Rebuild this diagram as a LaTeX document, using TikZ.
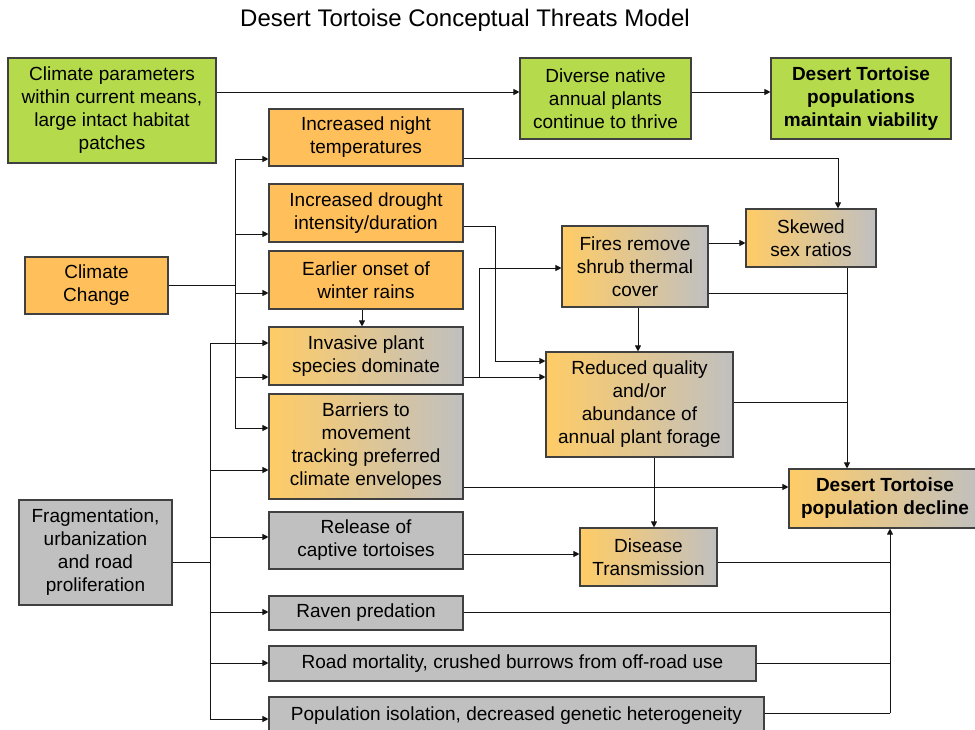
\documentclass[tikz,border=0pt]{standalone}
\usepackage{fontspec}
\setmainfont{Liberation Sans}
\usetikzlibrary{arrows.meta,calc}
\definecolor{gfill}{RGB}{181,218,76}
\definecolor{ofill}{RGB}{255,192,92}
\definecolor{gleft}{RGB}{255,204,102}
\definecolor{gyfill}{RGB}{192,192,192}
\definecolor{bord}{RGB}{64,64,64}
\definecolor{lne}{RGB}{20,20,20}
\begin{document}
\begin{tikzpicture}[x=1pt,y=-1pt,
  box/.style={draw=bord,line width=1.1pt,inner sep=0pt,align=center,font=\fontsize{19}{23}\selectfont},
  gbox/.style={box,fill=gfill},
  obox/.style={box,fill=ofill},
  ybox/.style={box,fill=gyfill},
  sbox/.style={box,left color=gleft,right color=gyfill},
  ln/.style={draw=lne,line width=0.9pt},
  arr/.style={ln,-{Triangle[length=6pt,width=6pt]}}]
\useasboundingbox (0,0) rectangle (975,730);
\node[font=\fontsize{24}{28}\selectfont] (title) at (465,20) {Desert Tortoise Conceptual Threats Model};

\node[gbox,minimum width=208,minimum height=105] (cp) at (112,110.5) {Climate parameters\\within current means,\\large intact habitat\\patches};
\node[gbox,minimum width=171,minimum height=81] (dn) at (605.5,98.5) {Diverse native\\annual plants\\continue to thrive};
\node[gbox,minimum width=180,minimum height=81,font=\fontsize{19}{23}\selectfont\bfseries] (vb) at (861,98.5) {Desert Tortoise\\populations\\maintain viability};

\node[obox,minimum width=194,minimum height=57] (nt) at (366,137.5) {Increased night\\temperatures};
\node[obox,minimum width=194,minimum height=58] (dr) at (366,213) {Increased drought\\intensity/duration};
\node[obox,minimum width=194,minimum height=58] (er) at (366,280) {Earlier onset of\\winter rains};
\node[sbox,minimum width=194,minimum height=58] (ip) at (366,356) {Invasive plant\\species dominate};
\node[sbox,minimum width=194,minimum height=105] (ba) at (366,446.5) {Barriers to\\movement\\tracking preferred\\climate envelopes};
\node[ybox,minimum width=194,minimum height=57] (rc) at (366,540.5) {Release of\\captive tortoises};
\node[ybox,minimum width=194,minimum height=34] (rp) at (366,613) {Raven predation};
\node[ybox,minimum width=487,minimum height=35] (rm) at (512.5,663.5) {Road mortality, crushed burrows from off-road use};
\node[ybox,minimum width=495,minimum height=38] (pi) at (516.5,716) {Population isolation, decreased genetic heterogeneity};

\node[obox,minimum width=143,minimum height=57] (cc) at (96.5,285.5) {Climate\\Change};
\node[ybox,minimum width=153,minimum height=105] (fr) at (95.5,552.5) {Fragmentation,\\urbanization\\and road\\proliferation};

\node[sbox,minimum width=146,minimum height=81] (fi) at (635,266.5) {Fires remove\\shrub thermal\\cover};
\node[sbox,minimum width=130,minimum height=58] (sk) at (811,238) {Skewed\\sex ratios};
\node[sbox,minimum width=187,minimum height=105] (rq) at (639.5,404.5) {Reduced quality\\and/or\\abundance of\\annual plant forage};
\node[sbox,minimum width=192,minimum height=59,font=\fontsize{19}{23}\selectfont\bfseries] (de) at (885,498.5) {Desert Tortoise\\population decline};
\node[sbox,minimum width=137,minimum height=58] (di) at (648.5,557) {Disease\\Transmission};

% top row
\coordinate (r92) at (0,92);
\draw[arr] (cp.east |- r92) -- (dn.west |- r92);
\draw[arr] (dn.east |- r92) -- (vb.west |- r92);

% climate change trunk
\coordinate (ct) at (235,285);
\coordinate (ct1) at (235,159);
\coordinate (ct2) at (235,234);
\coordinate (ct3) at (235,293);
\coordinate (ct4) at (235,377);
\coordinate (ct5) at (235,428);
\draw[ln] (cc.east |- ct) -- (ct);
\draw[ln] (ct1) -- (ct5);
\draw[arr] (ct1) -- (ct1 -| nt.west);
\draw[arr] (ct2) -- (ct2 -| dr.west);
\draw[arr] (ct3) -- (ct3 -| er.west);
\draw[arr] (ct4) -- (ct4 -| ip.west);
\draw[arr] (ct5) -- (ct5 -| ba.west);

% fragmentation trunk
\coordinate (ft) at (210,562);
\coordinate (ft1) at (210,343);
\coordinate (ft2) at (210,470);
\coordinate (ft3) at (210,537);
\coordinate (ft4) at (210,612);
\coordinate (ft5) at (210,663);
\coordinate (ft6) at (210,719);
\draw[ln] (fr.east |- ft) -- (ft);
\draw[ln] (ft1) -- (ft6);
\draw[arr] (ft1) -- (ft1 -| ip.west);
\draw[arr] (ft2) -- (ft2 -| ba.west);
\draw[arr] (ft3) -- (ft3 -| rc.west);
\draw[arr] (ft4) -- (ft4 -| rp.west);
\draw[arr] (ft5) -- (ft5 -| rm.west);
\draw[arr] (ft6) -- (ft6 -| pi.west);

% earlier -> invasive
\coordinate (x362) at (362,0);
\draw[arr] (er.south -| x362) -- (ip.north -| x362);

% drought -> reduced
\coordinate (d1) at (495,226);
\coordinate (d2) at (495,361);
\draw[arr] (dr.east |- d1) -- (d1) -- (d2) -- (d2 -| rq.west);

% invasive -> reduced, fires
\coordinate (i1) at (479,377);
\coordinate (i2) at (479,268);
\draw[arr] (ip.east |- i1) -- (i1 -| rq.west);
\draw[arr] (i1) -- (i2) -- (i2 -| fi.west);

% night -> skewed
\coordinate (n1) at (838,158);
\draw[arr] (nt.east |- n1) -- (n1) -- (n1 |- sk.north);

% fires -> skewed
\coordinate (f1) at (0,243);
\draw[arr] (fi.east |- f1) -- (sk.west |- f1);

% right trunk to decline
\coordinate (s1) at (847,293);
\coordinate (s2) at (847,402);
\draw[arr] (sk.south -| s1) -- (de.north -| s1);
\draw[ln] (fi.east |- s1) -- (s1);
\draw[ln] (rq.east |- s2) -- (s2);

% fires -> reduced ; reduced -> disease
\coordinate (x638) at (638,0);
\coordinate (x654) at (654,0);
\draw[arr] (fi.south -| x638) -- (rq.north -| x638);
\draw[arr] (rq.south -| x654) -- (di.north -| x654);

% barriers -> decline
\coordinate (b1) at (0,487);
\draw[arr] (ba.east |- b1) -- (de.west |- b1);

% release -> disease
\coordinate (rl) at (0,554);
\draw[arr] (rc.east |- rl) -- (di.west |- rl);

% bottom trunk to decline
\coordinate (t1) at (890,562);
\coordinate (t2) at (890,612);
\coordinate (t3) at (890,663);
\coordinate (t4) at (890,713);
\draw[arr] (t4) -- (t4 |- de.south);
\draw[ln] (di.east |- t1) -- (t1);
\draw[ln] (rp.east |- t2) -- (t2);
\draw[ln] (rm.east |- t3) -- (t3);
\draw[ln] (pi.east |- t4) -- (t4);
\end{tikzpicture}
\end{document}
